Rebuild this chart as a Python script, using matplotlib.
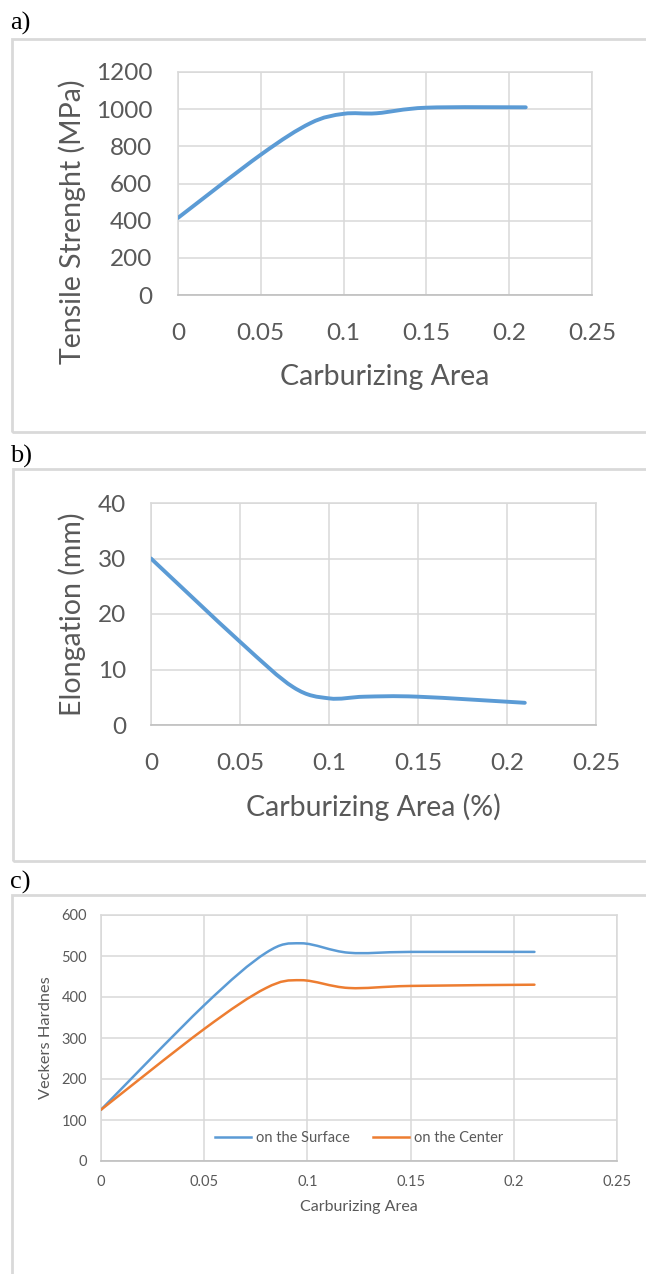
import matplotlib
matplotlib.use('Agg')
import matplotlib.pyplot as plt
from matplotlib.path import Path
from matplotlib.patches import PathPatch, Rectangle
from matplotlib.lines import Line2D
import numpy as np

# ---------------- data ----------------
carb_area_ab = [0, 0.05, 0.08, 0.10, 0.12, 0.15, 0.21]
tensile_strength = [415, 755, 925, 975, 978, 1008, 1010]
elongation = [30, 15, 6.8, 4.8, 5.1, 5.1, 4.0]

carb_area_c = [0, 0.05, 0.08, 0.097, 0.12, 0.15, 0.21]
hardness_surface = [125, 380, 508, 531, 508, 510, 510]
hardness_center = [125, 322, 422, 441, 422, 427, 430]

x_ticks = [0, 0.05, 0.10, 0.15, 0.20, 0.25]
x_tick_labels = ['0', '0.05', '0.1', '0.15', '0.2', '0.25']
tensile_ticks = [0, 200, 400, 600, 800, 1000, 1200]
elong_ticks = [0, 10, 20, 30, 40]
hard_ticks = [0, 100, 200, 300, 400, 500, 600]

panel_labels = ['a)', 'b)', 'c)']
series_labels = ['on the Surface', 'on the Center']

# ---------------- style ----------------
W, H, DPI = 646, 1274, 100
BLUE = '#5B9BD5'
ORANGE = '#ED7D31'
TXT = '#595959'
GRID = '#d9d9d9'
AXIS = '#bfbfbf'
plt.rcParams['font.family'] = ['Lato', 'DejaVu Sans']

fig = plt.figure(figsize=(W / DPI, H / DPI), dpi=DPI)


def px_axes(left, top, right, bottom):
    return fig.add_axes([left / W, 1 - bottom / H, (right - left) / W, (bottom - top) / H])


def smooth_path(x, y):
    pts = np.column_stack([x, y]).astype(float)
    n = len(pts)
    verts = [pts[0]]
    codes = [Path.MOVETO]
    for i in range(n - 1):
        p0 = pts[i - 1] if i > 0 else pts[i]
        p1 = pts[i]
        p2 = pts[i + 1]
        p3 = pts[i + 2] if i + 2 < n else pts[i + 1]
        c1 = p1 + (p2 - p0) / 6.0
        c2 = p2 - (p3 - p1) / 6.0
        verts += [c1, c2, p2]
        codes += [Path.CURVE4] * 3
    return Path(verts, codes)


def add_curve(ax, x, y, color, lw):
    patch = PathPatch(smooth_path(x, y), fill=False, edgecolor=color, lw=lw,
                      capstyle='round', joinstyle='round', zorder=3)
    ax.add_patch(patch)


def style_axes(ax, yticks, fs, xpad, ypad):
    ax.set_xlim(0, 0.25)
    ax.set_ylim(yticks[0], yticks[-1])
    ax.set_xticks(x_ticks)
    ax.set_xticklabels(x_tick_labels)
    ax.set_yticks(yticks)
    ax.set_yticklabels([str(t) for t in yticks])
    ax.tick_params(axis='both', length=0, labelsize=fs, labelcolor=TXT)
    ax.tick_params(axis='x', pad=xpad)
    ax.tick_params(axis='y', pad=ypad)
    ax.grid(True, color=GRID, lw=1.1, zorder=0)
    ax.set_axisbelow(True)
    for s in ['left', 'right', 'top']:
        ax.spines[s].set_color(GRID)
        ax.spines[s].set_linewidth(1.1)
    ax.spines['bottom'].set_color(AXIS)
    ax.spines['bottom'].set_linewidth(1.2)


def frame(left, top, right, bottom):
    fig.add_artist(Rectangle((left / W, 1 - bottom / H), (right - left) / W, (bottom - top) / H,
                             transform=fig.transFigure, fill=False,
                             edgecolor=GRID, lw=2.0, zorder=0))


# frames and panel labels
frame(12, 39, 700, 432)
frame(13, 469, 700, 861)
frame(12, 895, 700, 1320)
for lab, yc in zip(panel_labels, [23, 456, 882]):
    fig.text(10 / W, 1 - yc / H, lab, family='Liberation Serif', fontsize=19,
             color='black', ha='left', va='center')

# ---------------- panel a ----------------
ax1 = px_axes(178, 72, 592, 295)
style_axes(ax1, tensile_ticks, 17.5, 20, 18.5)
add_curve(ax1, carb_area_ab, tensile_strength, BLUE, 2.8)
ax1.set_ylabel('Tensile Strenght (MPa)', fontsize=20.5, color=TXT, va='center')
ax1.yaxis.set_label_coords(-0.256, 0.327)
ax1.set_xlabel('Carburizing Area', fontsize=20.5, color=TXT, va='center')
ax1.xaxis.set_label_coords(0.5, -0.368)

# ---------------- panel b ----------------
ax2 = px_axes(151, 503, 596, 725)
style_axes(ax2, elong_ticks, 17.5, 20, 18)
add_curve(ax2, carb_area_ab, elongation, BLUE, 2.8)
ax2.set_ylabel('Elongation (mm)', fontsize=20.5, color=TXT, va='center')
ax2.yaxis.set_label_coords(-0.1775, 0.5)
ax2.set_xlabel('Carburizing Area (%)', fontsize=20.5, color=TXT, va='center')
ax2.xaxis.set_label_coords(0.5, -0.369)

# ---------------- panel c ----------------
ax3 = px_axes(101, 915, 617, 1161)
style_axes(ax3, hard_ticks, 10.5, 10, 10)
add_curve(ax3, carb_area_c, hardness_surface, BLUE, 1.8)
add_curve(ax3, carb_area_c, hardness_center, ORANGE, 1.8)
ax3.set_ylabel('Veckers Hardnes', fontsize=11.8, color=TXT, va='center')
ax3.yaxis.set_label_coords(-0.1066, 0.5)
ax3.set_xlabel('Carburizing Area', fontsize=11.5, color=TXT, va='center')
ax3.xaxis.set_label_coords(0.5, -0.187)
handles = [Line2D([], [], color=BLUE, lw=1.8), Line2D([], [], color=ORANGE, lw=1.8)]
leg = ax3.legend(handles, series_labels, loc='center', bbox_to_anchor=(0.5, 0.0935),
                 ncol=2, frameon=False, fontsize=10.5, handlelength=2.5,
                 handletextpad=0.3, columnspacing=1.6, labelcolor=TXT)

fig.savefig('out.png', dpi=DPI)
